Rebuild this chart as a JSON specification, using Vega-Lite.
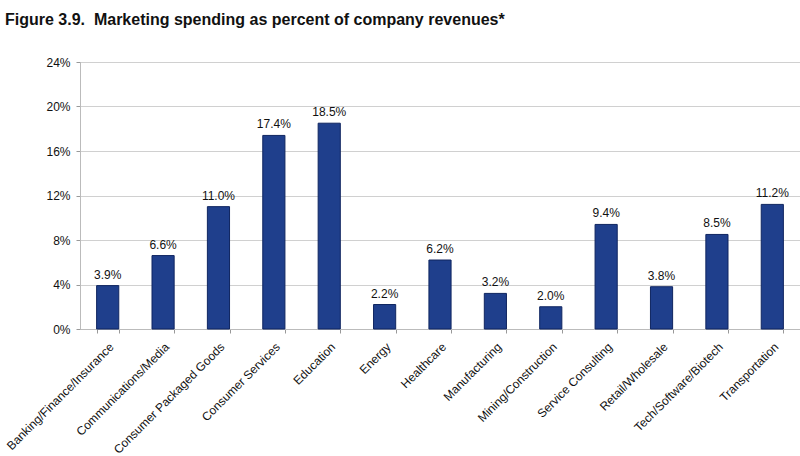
{
  "$schema": "https://vega.github.io/schema/vega-lite/v6.json",
  "autosize": "none",
  "width": 720,
  "height": 267,
  "padding": {"left": 80, "top": 62, "right": 0, "bottom": 127},
  "background": "white",
  "title": {
    "text": "Figure 3.9.\u00a0 Marketing spending as percent of company revenues*",
    "anchor": "start",
    "frame": "group",
    "dx": -75,
    "offset": 28,
    "font": "Liberation Sans",
    "fontSize": 16,
    "fontWeight": "bold",
    "color": "#111111"
  },
  "data": {
    "values": [
      {"industry": "Banking/Finance/Insurance", "pct": 3.9, "label": "3.9%"},
      {"industry": "Communications/Media", "pct": 6.6, "label": "6.6%"},
      {"industry": "Consumer Packaged Goods", "pct": 11.0, "label": "11.0%"},
      {"industry": "Consumer Services", "pct": 17.4, "label": "17.4%"},
      {"industry": "Education", "pct": 18.5, "label": "18.5%"},
      {"industry": "Energy", "pct": 2.2, "label": "2.2%"},
      {"industry": "Healthcare", "pct": 6.2, "label": "6.2%"},
      {"industry": "Manufacturing", "pct": 3.2, "label": "3.2%"},
      {"industry": "Mining/Construction", "pct": 2.0, "label": "2.0%"},
      {"industry": "Service Consulting", "pct": 9.4, "label": "9.4%"},
      {"industry": "Retail/Wholesale", "pct": 3.8, "label": "3.8%"},
      {"industry": "Tech/Software/Biotech", "pct": 8.5, "label": "8.5%"},
      {"industry": "Transportation", "pct": 11.2, "label": "11.2%"}
    ]
  },
  "encoding": {
    "x": {
      "field": "industry",
      "type": "nominal",
      "sort": null,
      "scale": {"paddingInner": 0.6, "paddingOuter": 0.3},
      "axis": {
        "title": null,
        "labelAngle": -45,
        "labelFont": "Liberation Sans",
        "labelFontSize": 12,
        "labelColor": "#111111",
        "labelPadding": 8,
        "tickBand": "extent",
        "tickColor": "#999999",
        "tickSize": 4,
        "domainColor": "#bbbbbb",
        "grid": false
      }
    },
    "y": {
      "field": "pct",
      "type": "quantitative",
      "scale": {"domain": [0, 24]},
      "axis": {
        "title": null,
        "values": [0, 4, 8, 12, 16, 20, 24],
        "labelExpr": "datum.label + '%'",
        "labelFont": "Liberation Sans",
        "labelFontSize": 12,
        "labelColor": "#111111",
        "labelPadding": 6,
        "tickColor": "#999999",
        "tickSize": 4,
        "domainColor": "#bbbbbb",
        "gridColor": "#d0d0d0"
      }
    }
  },
  "layer": [
    {
      "mark": {"type": "bar", "color": "#1f3f8c", "stroke": "#0f2560", "strokeWidth": 1}
    },
    {
      "mark": {"type": "text", "dy": -11, "font": "Liberation Sans", "fontSize": 12, "color": "#111111"},
      "encoding": {
        "text": {"field": "label", "type": "nominal"}
      }
    }
  ]
}
